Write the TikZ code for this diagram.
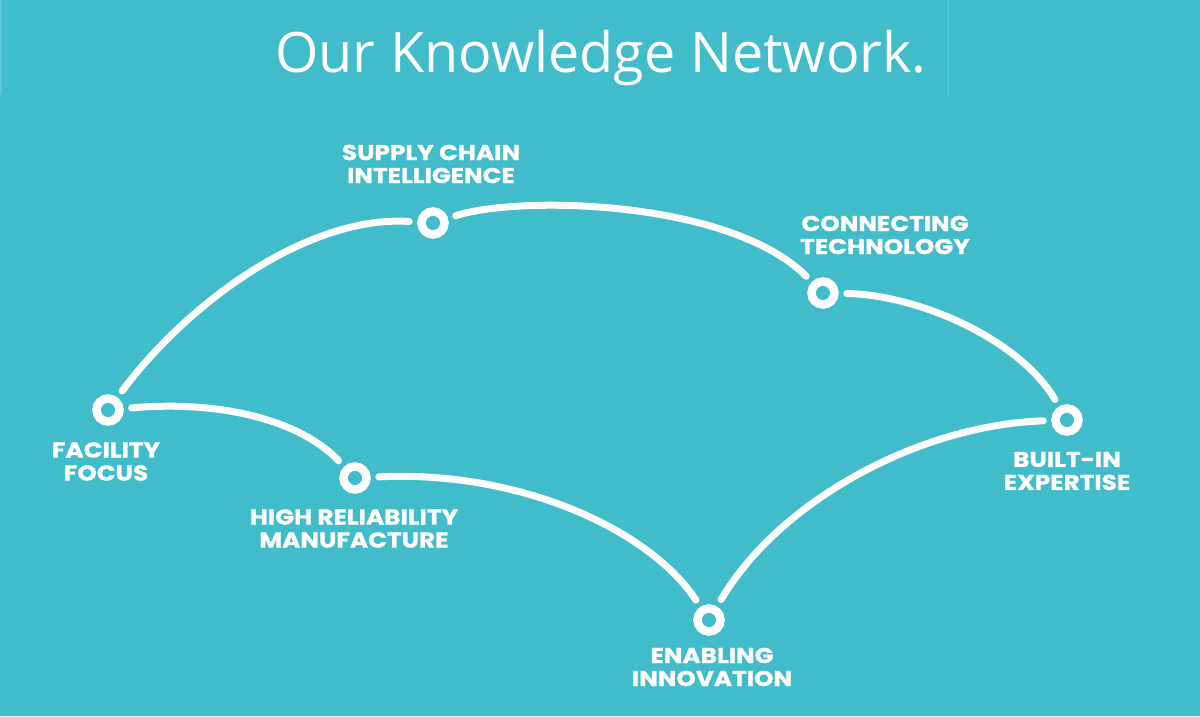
\documentclass[tikz,border=0pt]{standalone}
\usepackage{fontspec}
\setmainfont{Open Sans}
\newfontfamily\labelfont{Poppins}[UprightFont=* Bold,FakeStretch=1.15,FakeBold=1]
\definecolor{bgteal}{RGB}{64,188,203}
\definecolor{edgeteal}{RGB}{92,198,211}
\begin{document}
\begin{tikzpicture}[x=1pt,y=-1pt,
  ring/.style={circle,draw=white,line width=8.5pt,minimum size=23pt,inner sep=0pt},
  link/.style={draw=white,line width=7pt,line cap=round,shorten <=8pt,shorten >=8pt},
  lbl/.style={text=white,align=center,inner sep=0pt,
    font=\labelfont\fontsize{21.5}{23}\selectfont},
  ttl/.style={text=white,inner sep=0pt,anchor=base,font=\fontsize{55.7}{60}\selectfont}]
\fill[bgteal] (0,0) rectangle (1200,716);
\useasboundingbox (0,0) rectangle (1200,716);
\draw[edgeteal,line width=1pt] (948,0) -- (948,95);
\draw[edgeteal,line width=2pt] (1,0) -- (1,95);
\node[ttl] (title) at (601,72) {Our Knowledge Network.};
% rings
\node[ring] (ff) at (108,410) {};
\node[ring] (sc) at (433,223) {};
\node[ring] (ct) at (823,293) {};
\node[ring] (bi) at (1067,420) {};
\node[ring] (hr) at (355,478) {};
\node[ring] (en) at (709,620) {};
% links
\path[link] (ff) .. controls (190,300) and (310,215) .. (sc);
\path[link] (sc) .. controls (520,195) and (730,200) .. (ct);
\path[link] (ct) .. controls (920,295) and (1020,340) .. (bi);
\path[link] (ff) .. controls (220,400) and (300,420) .. (hr);
\path[link] (hr) .. controls (520,470) and (650,530) .. (en);
\path[link] (en) .. controls (780,500) and (920,425) .. (bi);
% labels
\node[lbl] (lsc) at (431,164) {SUPPLY CHAIN\\INTELLIGENCE};
\node[lbl] (lct) at (885,235) {CONNECTING\\TECHNOLOGY};
\node[lbl] (lff) at (106,461.5) {FACILITY\\FOCUS};
\node[lbl] (lbi) at (1067,471) {BUILT-IN\\EXPERTISE};
\node[lbl] (lhr) at (354,528.5) {HIGH RELIABILITY\\MANUFACTURE};
\node[lbl] (len) at (712,667) {ENABLING\\INNOVATION};
\end{tikzpicture}
\end{document}
